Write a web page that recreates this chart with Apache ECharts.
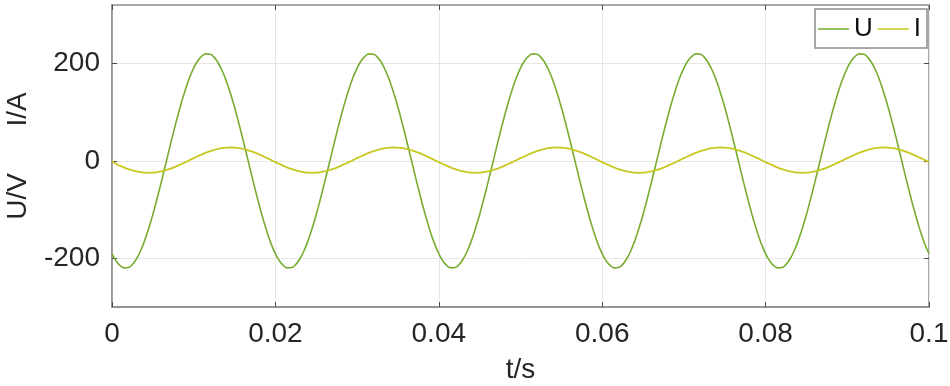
<!DOCTYPE html>
<html>
<head>
<meta charset="utf-8">
<script src="https://cdn.jsdelivr.net/npm/echarts@6/dist/echarts.min.js"></script>
<style>
  html, body { margin: 0; padding: 0; background: #fff; }
  #chart { width: 950px; height: 386px; }
</style>
</head>
<body>
<div id="chart"></div>
<script>
// samples every 0.5 ms from t = 0 to t = 0.1 s
const sampleStep = 0.0005;

const voltage = [
  -190.5, -205.4, -215.2, -219.7, -218.8, -212.5, -201.0, -184.5, -163.5, -138.4, -110.0, -78.8, -45.7, -11.5, 23.0, 56.9, 89.5, 119.8, 147.2, 171.0,
  190.5, 205.4, 215.2, 219.7, 218.8, 212.5, 201.0, 184.5, 163.5, 138.4, 110.0, 78.8, 45.7, 11.5, -23.0, -56.9, -89.5, -119.8, -147.2, -171.0,
  -190.5, -205.4, -215.2, -219.7, -218.8, -212.5, -201.0, -184.5, -163.5, -138.4, -110.0, -78.8, -45.7, -11.5, 23.0, 56.9, 89.5, 119.8, 147.2, 171.0,
  190.5, 205.4, 215.2, 219.7, 218.8, 212.5, 201.0, 184.5, 163.5, 138.4, 110.0, 78.8, 45.7, 11.5, -23.0, -56.9, -89.5, -119.8, -147.2, -171.0,
  -190.5, -205.4, -215.2, -219.7, -218.8, -212.5, -201.0, -184.5, -163.5, -138.4, -110.0, -78.8, -45.7, -11.5, 23.0, 56.9, 89.5, 119.8, 147.2, 171.0,
  190.5, 205.4, 215.2, 219.7, 218.8, 212.5, 201.0, 184.5, 163.5, 138.4, 110.0, 78.8, 45.7, 11.5, -23.0, -56.9, -89.5, -119.8, -147.2, -171.0,
  -190.5, -205.4, -215.2, -219.7, -218.8, -212.5, -201.0, -184.5, -163.5, -138.4, -110.0, -78.8, -45.7, -11.5, 23.0, 56.9, 89.5, 119.8, 147.2, 171.0,
  190.5, 205.4, 215.2, 219.7, 218.8, 212.5, 201.0, 184.5, 163.5, 138.4, 110.0, 78.8, 45.7, 11.5, -23.0, -56.9, -89.5, -119.8, -147.2, -171.0,
  -190.5, -205.4, -215.2, -219.7, -218.8, -212.5, -201.0, -184.5, -163.5, -138.4, -110.0, -78.8, -45.7, -11.5, 23.0, 56.9, 89.5, 119.8, 147.2, 171.0,
  190.5, 205.4, 215.2, 219.7, 218.8, 212.5, 201.0, 184.5, 163.5, 138.4, 110.0, 78.8, 45.7, 11.5, -23.0, -56.9, -89.5, -119.8, -147.2, -171.0,
  -190.5
];

const current = [
  0.0, -6.5, -10.3, -13.8, -16.9, -19.5, -21.7, -23.2, -24.2, -24.5, -24.2, -23.2, -21.7, -19.5, -16.9, -13.8, -10.3, -6.5, -2.6, 1.5,
  5.6, 9.5, 13.3, 16.8, 19.9, 22.5, 24.7, 26.2, 27.2, 27.5, 27.2, 26.2, 24.7, 22.5, 19.9, 16.8, 13.3, 9.5, 5.6, 1.5,
  -2.6, -6.5, -10.3, -13.8, -16.9, -19.5, -21.7, -23.2, -24.2, -24.5, -24.2, -23.2, -21.7, -19.5, -16.9, -13.8, -10.3, -6.5, -2.6, 1.5,
  5.6, 9.5, 13.3, 16.8, 19.9, 22.5, 24.7, 26.2, 27.2, 27.5, 27.2, 26.2, 24.7, 22.5, 19.9, 16.8, 13.3, 9.5, 5.6, 1.5,
  -2.6, -6.5, -10.3, -13.8, -16.9, -19.5, -21.7, -23.2, -24.2, -24.5, -24.2, -23.2, -21.7, -19.5, -16.9, -13.8, -10.3, -6.5, -2.6, 1.5,
  5.6, 9.5, 13.3, 16.8, 19.9, 22.5, 24.7, 26.2, 27.2, 27.5, 27.2, 26.2, 24.7, 22.5, 19.9, 16.8, 13.3, 9.5, 5.6, 1.5,
  -2.6, -6.5, -10.3, -13.8, -16.9, -19.5, -21.7, -23.2, -24.2, -24.5, -24.2, -23.2, -21.7, -19.5, -16.9, -13.8, -10.3, -6.5, -2.6, 1.5,
  5.6, 9.5, 13.3, 16.8, 19.9, 22.5, 24.7, 26.2, 27.2, 27.5, 27.2, 26.2, 24.7, 22.5, 19.9, 16.8, 13.3, 9.5, 5.6, 1.5,
  -2.6, -6.5, -10.3, -13.8, -16.9, -19.5, -21.7, -23.2, -24.2, -24.5, -24.2, -23.2, -21.7, -19.5, -16.9, -13.8, -10.3, -6.5, -2.6, 1.5,
  5.6, 9.5, 13.3, 16.8, 19.9, 22.5, 24.7, 26.2, 27.2, 27.5, 27.2, 26.2, 24.7, 22.5, 19.9, 16.8, 13.3, 9.5, 5.6, 1.5,
  -2.6
];

const seriesNames = ['U', 'I'];
const yTicks = [-200, 0, 200];
const xTicks = [0, 0.02, 0.04, 0.06, 0.08, 0.1];

const FONT = 'Liberation Sans, Arial, Helvetica, sans-serif';
const AXIS_GRAY = '#8c8c8c';
const TEXT = '#262626';

const toPairs = (vals) => vals.map((v, i) => [+(i * sampleStep).toFixed(4), v]);

const chart = echarts.init(document.getElementById('chart'), null, { renderer: 'canvas' });

const tickStyle = { show: true, inside: true, length: 5, lineStyle: { color: '#4a4a4a', width: 1 } };

chart.setOption({
  animation: false,
  backgroundColor: '#fff',
  grid: {
    left: 112, right: 21, top: 5, bottom: 79,
    containLabel: false, outerBoundsMode: 'none',
    show: true, borderColor: AXIS_GRAY, borderWidth: 1.5,
  },
  legend: {
    data: seriesNames,
    right: 23,
    top: 9,
    orient: 'horizontal',
    icon: 'rect',
    itemWidth: 31,
    itemHeight: 1.5,
    itemGap: 5,
    padding: [7, 6, 6, 3],
    borderColor: AXIS_GRAY,
    borderWidth: 1.5,
    backgroundColor: '#fff',
    textStyle: { fontFamily: FONT, fontSize: 26, color: '#111' },
  },
  xAxis: [
    {
      type: 'value',
      min: 0,
      max: 0.1,
      interval: 0.02,
      name: 't/s',
      nameLocation: 'middle',
      nameGap: 49,
      nameTextStyle: { fontFamily: FONT, fontSize: 28, color: TEXT },
      axisLine: { show: true, onZero: false, lineStyle: { color: AXIS_GRAY, width: 1.5 } },
      axisTick: tickStyle,
      axisLabel: {
        fontFamily: FONT, fontSize: 28, color: TEXT, margin: 13,
        customValues: xTicks,
        formatter: (v) => (v === 0 ? '0' : String(+v.toFixed(2))),
      },
      splitLine: { show: true, lineStyle: { color: '#e6e6e6', width: 1 } },
    },
    {
      type: 'value',
      position: 'top',
      min: 0,
      max: 0.1,
      interval: 0.02,
      axisLine: { show: false, onZero: false },
      axisTick: tickStyle,
      axisLabel: { show: false },
      splitLine: { show: false },
    },
  ],
  yAxis: [
    {
      type: 'value',
      min: -300,
      max: 320,
      name: 'U/V      I/A',
      nameLocation: 'middle',
      nameRotate: 90,
      nameGap: 80,
      nameTextStyle: { fontFamily: FONT, fontSize: 28, color: TEXT },
      axisLine: { show: true, onZero: false, lineStyle: { color: AXIS_GRAY, width: 1.5 } },
      axisTick: { ...tickStyle, customValues: yTicks },
      axisLabel: { fontFamily: FONT, fontSize: 28, color: TEXT, margin: 12, customValues: yTicks },
      splitLine: { show: true, lineStyle: { color: '#e6e6e6', width: 1 } },
    },
    {
      type: 'value',
      position: 'right',
      min: -300,
      max: 320,
      axisLine: { show: false, onZero: false },
      axisTick: { ...tickStyle, customValues: yTicks },
      axisLabel: { show: false, customValues: yTicks },
      splitLine: { show: false },
    },
  ],
  series: [
    {
      name: seriesNames[0],
      type: 'line',
      data: toPairs(voltage),
      symbol: 'none',
      smooth: true,
      lineStyle: { color: '#77ac30', width: 1.6 },
      itemStyle: { color: '#77ac30' },
    },
    {
      name: seriesNames[1],
      type: 'line',
      data: toPairs(current),
      symbol: 'none',
      smooth: true,
      lineStyle: { color: '#c9c722', width: 1.8 },
      itemStyle: { color: '#c9c722' },
    },
  ],
});
</script>
</body>
</html>
